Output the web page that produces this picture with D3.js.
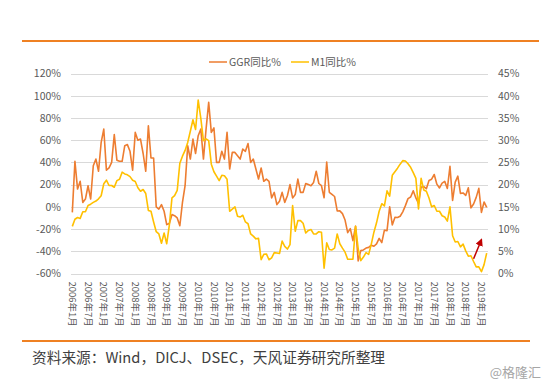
<!DOCTYPE html>
<html>
<head>
<meta charset="utf-8">
<script src="https://cdn.jsdelivr.net/npm/d3@7"></script>
<style>
  body { margin: 0; background: #fff; }
  svg { display: block; font-family: "Noto Sans CJK SC", "Noto Sans", sans-serif; }
</style>
</head>
<body>
<svg id="chart" width="545" height="386"></svg>
<script>
// month categories, 2006-01 .. 2019-03
const months = []
for (let y = 2006; y <= 2019; y++) {
    for (let m = 1; m <= 12; m++) {
        if (y === 2019 && m > 3) break
        months.push(`${y}年${m}月`)
    }
}

// GGR yoy %, left axis
const ggr = [
    -5, 41, 16, 23, 4, 7, 19, 7, 37, 43, 32, 58,
    70, 33, 35, 40, 65, 42, 41, 41, 55, 56, 50, 33,
    67, 60, 61, 48, 32, 73, 44, 44, 0, -2, 2, -4,
    -16, -15, -7, -8, -10, -17, 4, 19, 55, 43, 61, 48,
    64, 70, 43, 70, 94, 67, 71, 40, 40, 50, 43, 67,
    34, 49, 49, 46, 43, 52, 50, 57, 40, 43, 34, 25,
    35, 23, 25, 23, 8, 13, 2, 5, 13, 4, 10, 20,
    8, 11, 25, 13, 13, 21, 20, 19, 22, 32, 21, 19,
    8.2, 40.3, 13.1, 11.2, 9.3, -3.7, -3.6, -6.1, -11.9, -23.2, -19.6, -30.4,
    -17.4, -48.6, -39.4, -38.8, -37.1, -36.5, -34.5, -35.5, -33.3, -28.4, -32.2, -21.0,
    -21.4, 0.1, -16.3, -9.5, -9.6, -8.5, -4.5, 1.1, 7.4, 8.8, 14.4, 8.0,
    3.1, 17.8, 18.1, 16.3, 23.7, 24.9, 29.1, 20.4, 17.0, 21.4, 22.9, 16.5,
    36.4, 5.7, 22.2, 27.6, 12.1, 12.5, 10.3, 17.1, -0.9, 2.6, 8.5, 16.6,
    -5.0, 4.4, -0.5
]

// M1 yoy %, right axis
const m1 = [
    10.6, 12.2, 12.6, 12.4, 13.9, 13.9, 15.3, 15.6, 16.0, 16.3, 16.8, 17.5,
    20.2, 21.0, 19.8, 19.8, 19.4, 20.9, 21.2, 22.8, 22.4, 22.2, 21.8, 21.0,
    20.7, 19.3, 18.5, 18.9, 18.0, 14.2, 14.0, 11.6, 9.4, 8.9, 6.8, 9.1,
    6.7, 10.9, 17.0, 17.5, 18.7, 24.8, 26.4, 27.7, 29.5, 32.0, 34.6, 32.4,
    39.0, 34.9, 29.9, 30.3, 29.9, 24.6, 22.9, 21.9, 20.9, 22.1, 22.0, 21.2,
    14.0, 14.5, 15.0, 12.9, 12.7, 13.1, 11.6, 11.2, 8.9, 8.4, 7.8, 7.9,
    3.1, 4.3, 4.4, 3.1, 3.5, 4.7, 4.6, 4.5, 7.3, 6.1, 5.5, 6.5,
    15.3, 9.5, 11.9, 11.9, 11.3, 9.1, 9.7, 9.9, 8.9, 8.9, 9.4, 9.3,
    1.2, 6.9, 5.4, 5.3, 5.7, 8.9, 6.7, 5.7, 4.8, 3.2, 3.2, 3.2,
    10.6, 5.6, 2.9, 3.7, 4.7, 4.3, 6.6, 9.3, 11.4, 14.0, 15.7, 15.2,
    18.6, 17.4, 22.1, 22.9, 23.7, 24.6, 25.4, 25.3, 24.7, 23.9, 22.7, 21.4,
    14.5, 21.4, 18.8, 18.5, 17.0, 15.0, 15.3, 14.0, 14.0, 13.0, 12.7, 11.8,
    15.0, 8.5, 7.1, 7.2, 6.0, 6.6, 5.1, 3.9, 4.0, 2.7, 1.5, 1.5,
    0.4, 2.0, 4.6
]

const leftTicks = [-60, -40, -20, 0, 20, 40, 60, 80, 100, 120]
const rightTicks = [0, 5, 10, 15, 20, 25, 30, 35, 40, 45]
const xLabels = months.filter((d, i) => i % 6 === 0)
const seriesNames = ["GGR同比%", "M1同比%"]
// arrow annotation, [month, M1 value] from -> to
const arrowFrom = [months[153], 3.3]
const arrowTo = [months[156], 7.6]

const svg = d3.select("#chart")

const x = d3.scaleBand().domain(months).range([71, 488])
const cx = d => x(d) + x.bandwidth() / 2
const yL = d3.scaleLinear().domain([-60, 120]).range([273.5, 73.5])
const yR = d3.scaleLinear().domain([0, 45]).range([273.5, 73.5])

const orange = "#ED7D31"
const gold = "#FFC000"
const textGrey = "#595959"

// top & bottom rules
svg.append("line")
    .attr("x1", 22).attr("x2", 539).attr("y1", 41).attr("y2", 41)
    .attr("stroke", "#EF8123").attr("stroke-width", 2)
svg.append("line")
    .attr("x1", 22).attr("x2", 530).attr("y1", 341).attr("y2", 341)
    .attr("stroke", "#EF8123").attr("stroke-width", 2)

// gridlines
svg.append("g")
    .selectAll("line")
    .data(leftTicks)
    .join("line")
    .attr("x1", 71).attr("x2", 488)
    .attr("y1", d => Math.round(yL(d)) + 0.5)
    .attr("y2", d => Math.round(yL(d)) + 0.5)
    .attr("stroke", "#D9D9D9")

// axes
const styleAxis = g => {
    g.select(".domain").remove()
    g.attr("font-family", null).attr("font-size", null)
    g.selectAll("text").attr("fill", textGrey).style("font-size", "10.5px")
}
svg.append("g")
    .attr("transform", "translate(71,0)")
    .call(d3.axisLeft(yL).tickValues(leftTicks).tickSize(0).tickPadding(10).tickFormat(d => d + "%"))
    .call(styleAxis)
svg.append("g")
    .attr("transform", "translate(488,0)")
    .call(d3.axisRight(yR).tickValues(rightTicks).tickSize(0).tickPadding(10).tickFormat(d => d + "%"))
    .call(styleAxis)
svg.append("g")
    .attr("transform", `translate(0,${yL(-60)})`)
    .call(d3.axisBottom(x).tickValues(xLabels).tickSize(0))
    .call(styleAxis)
    .call(g => g.selectAll("text")
        .attr("transform", "rotate(90)")
        .attr("text-anchor", "start")
        .attr("x", 8).attr("y", 0).attr("dy", "0.35em")
        .style("font-size", "9.5px"))

// lines (M1 on the secondary axis sits on top)
svg.append("path")
    .datum(ggr)
    .attr("fill", "none")
    .attr("stroke", orange)
    .attr("stroke-width", 1.6)
    .attr("stroke-linejoin", "round")
    .attr("d", d3.line().x((d, i) => cx(months[i])).y(d => yL(d)))
svg.append("path")
    .datum(m1)
    .attr("fill", "none")
    .attr("stroke", gold)
    .attr("stroke-width", 1.6)
    .attr("stroke-linejoin", "round")
    .attr("d", d3.line().x((d, i) => cx(months[i])).y(d => yR(d)))

// arrow
svg.append("defs").append("marker")
    .attr("id", "head")
    .attr("viewBox", "0 0 10 10")
    .attr("refX", 8).attr("refY", 5)
    .attr("markerWidth", 5).attr("markerHeight", 5)
    .attr("orient", "auto")
    .append("path")
    .attr("d", "M0,0 L10,5 L0,10 Z")
    .attr("fill", "#C00000")
svg.append("line")
    .attr("x1", cx(arrowFrom[0])).attr("y1", yR(arrowFrom[1]))
    .attr("x2", cx(arrowTo[0])).attr("y2", yR(arrowTo[1]))
    .attr("stroke", "#C00000").attr("stroke-width", 1.5)
    .attr("marker-end", "url(#head)")

// legend
const legend = svg.append("g")
legend.selectAll("line")
    .data(seriesNames)
    .join("line")
    .attr("x1", (d, i) => 209 + i * 82).attr("x2", (d, i) => 227 + i * 82)
    .attr("y1", 62).attr("y2", 62)
    .attr("stroke", (d, i) => i === 0 ? orange : gold)
    .attr("stroke-width", 1.5)
legend.selectAll("text")
    .data(seriesNames)
    .join("text")
    .attr("x", (d, i) => 229 + i * 82)
    .attr("y", 62)
    .attr("dy", "0.35em")
    .attr("fill", textGrey)
    .style("font-size", "10.5px")
    .text(d => d)

// source + watermark
svg.append("text")
    .attr("x", 32).attr("y", 363)
    .attr("fill", "#404040")
    .style("font-size", "14.7px")
    .text("资料来源：Wind，DICJ、DSEC，天风证券研究所整理")
svg.append("text")
    .attr("x", 541).attr("y", 377)
    .attr("text-anchor", "end")
    .attr("fill", "#A6A6A6")
    .style("font-size", "13px")
    .text("@格隆汇")
</script>
</body>
</html>
